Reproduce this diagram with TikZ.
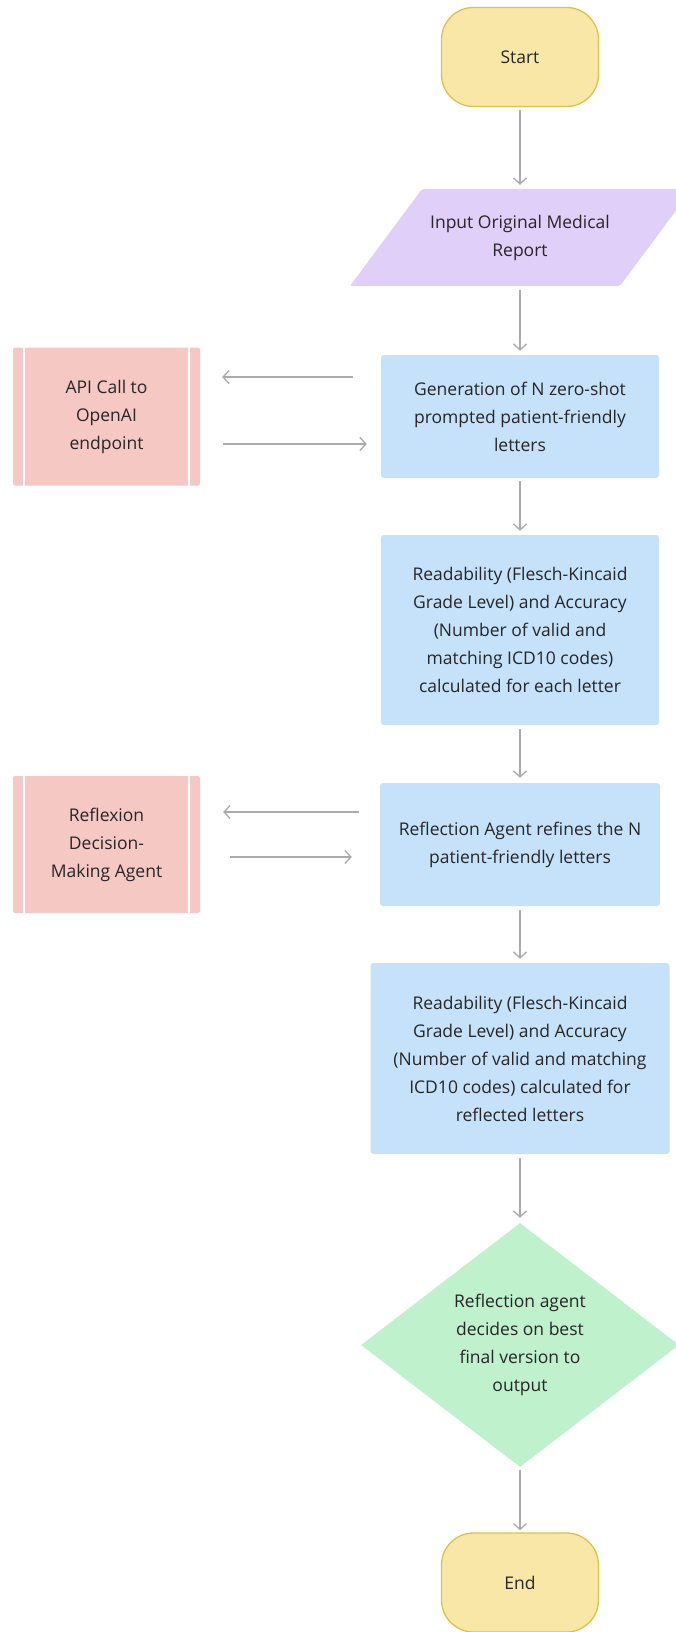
\documentclass[tikz,border=0pt]{standalone}
\usepackage{fontspec}
\setmainfont{Open Sans}
\usetikzlibrary{arrows.meta,shapes.geometric}
\definecolor{termfill}{HTML}{F9E7A7}
\definecolor{termdraw}{HTML}{DEC248}
\definecolor{lavfill}{HTML}{E0CFF8}
\definecolor{bluefill}{HTML}{C6E2FA}
\definecolor{pinkfill}{HTML}{F6C8C4}
\definecolor{greenfill}{HTML}{BEF1CC}
\definecolor{arrowgray}{HTML}{ABABAB}
\definecolor{txt}{HTML}{262626}
\begin{document}
\begin{tikzpicture}[x=1pt,y=-1pt,
  every node/.style={font=\fontsize{17.5}{28}\selectfont, text=txt, align=center, inner sep=0pt},
  term/.style={draw=termdraw, line width=1.3pt, fill=termfill, rounded corners=32pt, minimum width=157pt, minimum height=99pt},
  bluebox/.style={fill=bluefill, rounded corners=3pt},
  predef/.style={fill=pinkfill, rounded corners=2pt, minimum width=187pt},
  sep/.style={draw=white, line width=1.6pt},
  arr/.style={draw=arrowgray, line width=1.3pt, -{Straight Barb[length=6pt,width=13pt]}}
]
\path[use as bounding box, clip] (0,0) rectangle (676,1632);
\fill[white] (0,0) rectangle (676,1632);

% terminal start
\node[term] (start) at (520,57) {Start};

% input parallelogram
\fill[lavfill, rounded corners=2pt] (422,189) -- (692,189) -- (620,286) -- (350,286) -- cycle;
\node[minimum width=200pt, minimum height=97pt] (input) at (520,237.5) {Input Original Medical\\Report};

% generation
\node[bluebox, minimum width=278pt, minimum height=123pt] (gen) at (520,416.5)
  {Generation of N zero-shot\\prompted patient-friendly\\letters};
\node[predef, minimum height=138pt] (api) at (106.5,416.5) {API Call to\\OpenAI\\endpoint};
\draw[sep] ([xshift=11pt]api.north west) -- ([xshift=11pt]api.south west);
\draw[sep] ([xshift=-11pt]api.north east) -- ([xshift=-11pt]api.south east);

% readability 1
\node[bluebox, minimum width=278pt, minimum height=190pt] (readA) at (520,630)
  {Readability (Flesch-Kincaid\\Grade Level) and Accuracy\\(Number of valid and\\matching ICD10 codes)\\calculated for each letter};

% reflection
\node[bluebox, minimum width=280pt, minimum height=123pt] (refl) at (520,844.5)
  {Reflection Agent refines the N\\patient-friendly letters};
\node[predef, minimum height=137pt] (reflex) at (106.5,844.5) {Reflexion\\Decision-\\Making Agent};
\draw[sep] ([xshift=11pt]reflex.north west) -- ([xshift=11pt]reflex.south west);
\draw[sep] ([xshift=-11pt]reflex.north east) -- ([xshift=-11pt]reflex.south east);

% readability 2
\node[bluebox, minimum width=299pt, minimum height=191pt] (readB) at (520,1058.5)
  {Readability (Flesch-Kincaid\\Grade Level) and Accuracy\\(Number of valid and matching\\ICD10 codes) calculated for\\reflected letters};

% decision
\node[diamond, fill=greenfill, minimum width=318pt, minimum height=244pt] (decide) at (520,1345) {};
\node (decidetext) at (520,1345) {Reflection agent\\decides on best\\final version to\\output};

% end
\node[term] (end) at (520,1582.5) {End};

% vertical connectors
\draw[arr, shorten <=3pt, shorten >=4pt] (start) -- (input);
\draw[arr, shorten <=4pt, shorten >=4pt] (input) -- (gen);
\draw[arr, shorten <=3pt, shorten >=4pt] (gen) -- (readA);
\draw[arr, shorten <=4pt, shorten >=5pt] (readA) -- (refl);
\draw[arr, shorten <=4pt, shorten >=4pt] (refl) -- (readB);
\draw[arr, shorten <=4pt, shorten >=5pt] (readB) -- (decide);
\draw[arr, shorten <=3pt, shorten >=2pt] (decide) -- (end);

% side connectors
\draw[arr, shorten <=28pt, shorten >=22pt] ([yshift=39.5pt]gen.west) -- ([yshift=39.5pt]api.east);
\draw[arr, shorten <=23pt, shorten >=14pt] ([yshift=-27.5pt]api.east) -- ([yshift=-27.5pt]gen.west);
\draw[arr, shorten <=21pt, shorten >=23pt] ([yshift=32.5pt]refl.west) -- ([yshift=32.5pt]reflex.east);
\draw[arr, shorten <=30pt, shorten >=28pt] ([yshift=-12.5pt]reflex.east) -- ([yshift=-12.5pt]refl.west);
\end{tikzpicture}
\end{document}
